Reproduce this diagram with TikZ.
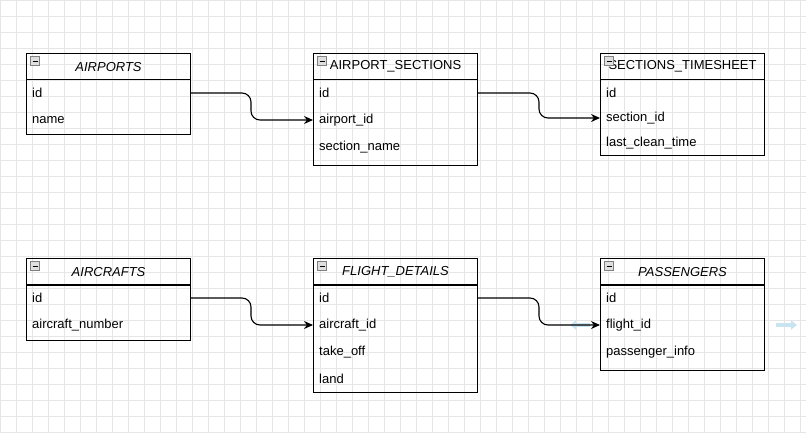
\documentclass[tikz,border=0pt]{standalone}
\usepackage{fontspec}
\setmainfont{Liberation Sans}
\usetikzlibrary{arrows.meta,positioning}
\definecolor{gridc}{RGB}{230,230,230}
\definecolor{hoverc}{RGB}{200,228,240}
\tikzset{
  head/.style={draw,line width=1.1pt,minimum width=164pt,minimum height=26pt,inner sep=0pt,anchor=north west,font=\fontsize{13}{15}\selectfont},
  body/.style={draw,line width=1.1pt,minimum width=164pt,anchor=north west,inner sep=0pt},
  field/.style={anchor=west,inner sep=0pt,font=\fontsize{13}{15}\selectfont},
  fold/.style={draw=gray,fill=gray!25,minimum size=9pt,inner sep=0pt},
  link/.style={line width=1.1pt,-{Stealth[length=9pt,width=8pt]},rounded corners=9pt}
}
\begin{document}
\begin{tikzpicture}[x=1pt,y=-1pt]
\useasboundingbox (0,0) rectangle (806,432);
\fill[white] (0,0) rectangle (806,432);
\foreach \gx in {0,16,...,800} \draw[gridc] (\gx,0) -- (\gx,432);
\foreach \gy in {0,16,...,432} \draw[gridc] (0,\gy) -- (806,\gy);
% upper row
\node (airports)[head] at (26,53) {\textit{AIRPORTS}};
\node[body,minimum height=55pt] at (26,79) {};
\node (apid)[field] at (32,93) {id};
\node (apname)[field] at (32,120) {name};
\node (sections)[head] at (313,53) {AIRPORT\_SECTIONS};
\node[body,minimum height=86pt] at (313,79) {};
\node (secid)[field] at (319,93) {id};
\node (secapid)[field] at (319,120) {airport\_id};
\node (secname)[field] at (319,147) {section\_name};
\node (timesheet)[head] at (600,53) {SECTIONS\_TIMESHEET};
\node[body,minimum height=76pt] at (600,79) {};
\node (tsid)[field] at (606,93) {id};
\node (tssec)[field] at (606,118) {section\_id};
\node (tslast)[field] at (606,143) {last\_clean\_time};
% lower row
\node (aircrafts)[head] at (26,258) {\textit{AIRCRAFTS}};
\node[body,minimum height=55pt] at (26,285) {};
\node (acid)[field] at (32,298) {id};
\node (acnum)[field] at (32,325) {aircraft\_number};
\node (flights)[head] at (313,258) {\textit{FLIGHT\_DETAILS}};
\node[body,minimum height=107pt] at (313,285) {};
\node (flid)[field] at (319,298) {id};
\node (flac)[field] at (319,325) {aircraft\_id};
\node (fltake)[field] at (319,352) {take\_off};
\node (flland)[field] at (319,379) {land};
\node (passengers)[head] at (600,258) {\textit{PASSENGERS}};
\node[body,minimum height=85pt] at (600,285) {};
\node (paid)[field] at (606,298) {id};
\node (pafl)[field] at (606,325) {flight\_id};
\node (painfo)[field] at (606,352) {passenger\_info};
% fold icons
\foreach \t in {airports,sections,timesheet,aircrafts,flights,passengers}
  \node[fold] at ([xshift=9pt,yshift=-8pt]\t.north west) {\rule{5pt}{0.8pt}};
% hover hints
\draw[hoverc,line width=4pt,-{Triangle[length=6pt,width=9pt]}] (776,325) -- (797,325);
\draw[hoverc,line width=4pt,-{Triangle[length=6pt,width=9pt]}] (590,325) -- (570,325);
% links
\draw[link] (apid.west -| airports.east) -- (251,93) -- (251,120) -- (secapid.west -| sections.west);
\draw[link] (secid.west -| sections.east) -- (539,93) -- (539,118) -- (tssec.west -| timesheet.west);
\draw[link] (acid.west -| aircrafts.east) -- (251,298) -- (251,325) -- (flac.west -| flights.west);
\draw[link] (flid.west -| flights.east) -- (539,298) -- (539,325) -- (pafl.west -| passengers.west);
\end{tikzpicture}
\end{document}
